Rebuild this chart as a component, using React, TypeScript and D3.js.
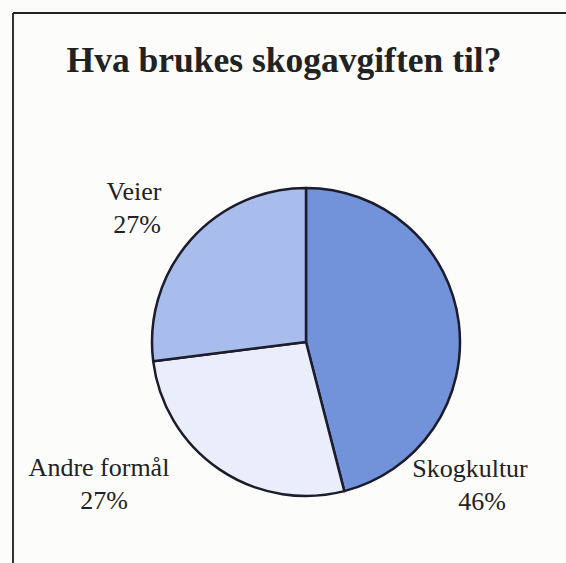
import React from "react";
import * as d3 from "d3";

const categories = ["Skogkultur", "Andre formål", "Veier"];
const values = [46, 27, 27];
const labels = ["46%", "27%", "27%"];
const colors = ["#7293d9", "#e9eefa", "#a8bdec"];
const title = "Hva brukes skogavgiften til?";

export default function App() {
  const W = 566, H = 563;
  const cx = 306, cy = 342, r = 154;
  const pie = d3.pie<number>().sort(null).startAngle(0).endAngle(2 * Math.PI)(values);
  const arc = d3.arc<d3.PieArcDatum<number>>().innerRadius(0).outerRadius(r);
  const namePos: [number, number][] = [
    [470, 477],
    [99, 476],
    [134, 200],
  ];
  const pctPos: [number, number][] = [
    [482, 510],
    [104, 509],
    [137, 233],
  ];
  return (
    <svg width={W} height={H} style={{ position: "absolute", left: 0, top: 0 }}
      fontFamily="'Liberation Serif', 'Times New Roman', serif">
      <rect x={0} y={0} width={W} height={H} fill="#fcfcfa" />
      <line x1={13} y1={13} x2={W} y2={13} stroke="#222" strokeWidth={2} />
      <line x1={13} y1={13} x2={13} y2={H} stroke="#333" strokeWidth={2} />
      <text x={284} y={72} textAnchor="middle" fontSize={35.5} fontWeight="bold" fill="#222">{title}</text>
      <g transform={`translate(${cx},${cy})`}>
        {pie.map((d, i) => (
          <path key={i} d={arc(d) || ""} fill={colors[i]} stroke="#1c1c2c" strokeWidth={2.5} strokeLinejoin="round" />
        ))}
      </g>
      {categories.map((c, i) => (
        <g key={c}>
          <text x={namePos[i][0]} y={namePos[i][1]} textAnchor="middle" fontSize={26} fill="#222">{c}</text>
          <text x={pctPos[i][0]} y={pctPos[i][1]} textAnchor="middle" fontSize={26} fill="#222">{labels[i]}</text>
        </g>
      ))}
    </svg>
  );
}
